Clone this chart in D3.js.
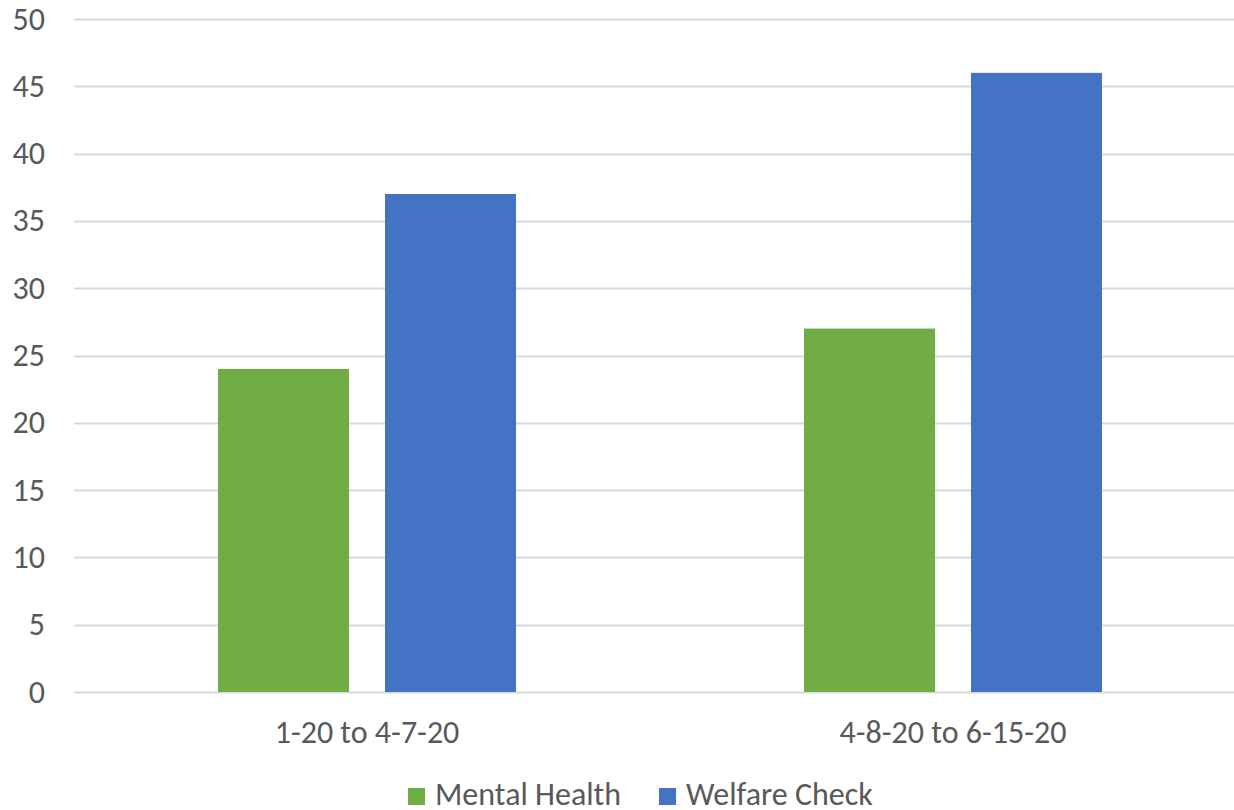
<!DOCTYPE html>
<html>
<head>
<meta charset="utf-8">
<script src="https://cdn.jsdelivr.net/npm/d3@7"></script>
<style>
  body { margin: 0; background: #fff; }
  svg { display: block; }
</style>
</head>
<body>
<svg id="chart" width="1234" height="810"></svg>
<script>
const periods = ['1-20 to 4-7-20', '4-8-20 to 6-15-20'];
const seriesNames = ['Mental Health', 'Welfare Check'];
const mentalHealth = [24, 27];
const welfareCheck = [37, 46];
const yTicks = [0, 5, 10, 15, 20, 25, 30, 35, 40, 45, 50];

const colors = ['#70AD47', '#4472C4'];
const font = "Calibri, Carlito, 'Open Sans', sans-serif";
const fontSize = 32;
const textColor = '#595959';

const chartWidth = 1234;
const plotLeft = 74;
const plotTop = 19;
const plotBottom = 692;

const svg = d3.select('#chart');

const y = d3.scaleLinear().domain([0, 50]).range([plotBottom, plotTop]);
const x0 = d3.scaleBand().domain(periods).range([plotLeft, 1246]).padding(0);
const x1 = d3.scaleBand()
    .domain(seriesNames)
    .range([0, x0.bandwidth()])
    .paddingInner(0.2156)
    .paddingOuter(0.862);

// gridlines
svg.append('g')
    .selectAll('line')
    .data(yTicks)
    .join('line')
    .attr('x1', plotLeft)
    .attr('x2', chartWidth)
    .attr('y1', d => Math.round(y(d)) + 0.5)
    .attr('y2', d => Math.round(y(d)) + 0.5)
    .attr('stroke', '#D9D9D9')
    .attr('stroke-width', 2);

// y labels
svg.append('g')
    .attr('font-family', font)
    .attr('font-size', fontSize)
    .attr('fill', textColor)
    .attr('text-anchor', 'end')
    .selectAll('text')
    .data(yTicks)
    .join('text')
    .attr('x', 45)
    .attr('y', d => y(d))
    .attr('dy', '0.33em')
    .text(d => d);

// bars
const rows = periods.map((p, i) => ({ period: p, values: [mentalHealth[i], welfareCheck[i]] }));

svg.append('g')
    .selectAll('g')
    .data(rows)
    .join('g')
    .attr('transform', d => `translate(${x0(d.period)},0)`)
    .selectAll('rect')
    .data(d => d.values.map((v, j) => ({ name: seriesNames[j], value: v, color: colors[j] })))
    .join('rect')
    .attr('x', d => x1(d.name))
    .attr('width', x1.bandwidth())
    .attr('y', d => y(d.value))
    .attr('height', d => y(0) - y(d.value))
    .attr('fill', d => d.color);

// category labels
svg.append('g')
    .attr('font-family', font)
    .attr('font-size', fontSize)
    .attr('fill', textColor)
    .attr('text-anchor', 'middle')
    .selectAll('text')
    .data(periods)
    .join('text')
    .attr('x', d => x0(d) + x0.bandwidth() / 2)
    .attr('y', 743)
    .text(d => d);

// legend
const legendX = [408, 659];
const legend = svg.append('g')
    .selectAll('g')
    .data(seriesNames)
    .join('g')
    .attr('transform', (d, i) => `translate(${legendX[i]},788)`);

legend.append('rect')
    .attr('width', 17)
    .attr('height', 17)
    .attr('fill', (d, i) => colors[i]);

legend.append('text')
    .attr('x', 27)
    .attr('y', 17)
    .attr('font-family', font)
    .attr('font-size', fontSize)
    .attr('fill', textColor)
    .text(d => d);
</script>
</body>
</html>
